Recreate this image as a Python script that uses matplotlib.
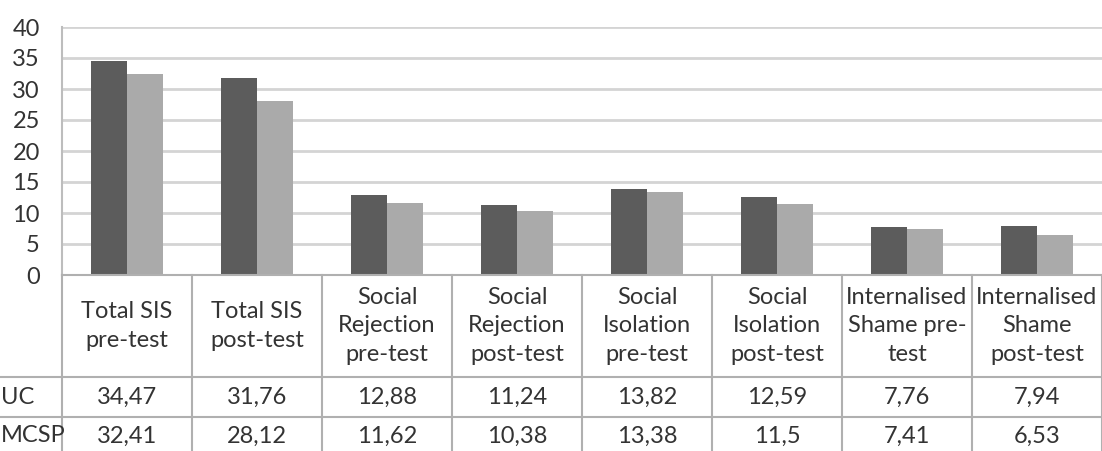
import numpy as np
import matplotlib.pyplot as plt

# data
categories = ["Total SIS\npre-test", "Total SIS\npost-test",
              "Social\nRejection\npre-test", "Social\nRejection\npost-test",
              "Social\nIsolation\npre-test", "Social\nIsolation\npost-test",
              "Internalised\nShame pre-\ntest", "Internalised\nShame\npost-test"]
uc = [34.47, 31.76, 12.88, 11.24, 13.82, 12.59, 7.76, 7.94]
mcsp = [32.41, 28.12, 11.62, 10.38, 13.38, 11.5, 7.41, 6.53]
series_names = ["UC", "MCSP"]

W, H = 1102, 451
plt.rcParams['font.family'] = ['Lato', 'DejaVu Sans']

fig = plt.figure(figsize=(W / 100, H / 100), dpi=100)

def fx(px):
    return px / W

def fy(py):
    # py measured from top of image
    return 1 - py / H

left, right, top, zero = 62, 1102, 27, 275
ax = fig.add_axes([fx(left), fy(zero), fx(right - left), fy(top) - fy(zero)])

x = np.arange(len(categories))
bw = 0.28
ax.bar(x - bw / 2, uc, bw, color='#5c5c5c', zorder=3)
ax.bar(x + bw / 2, mcsp, bw, color='#aaaaaa', zorder=3)

ax.set_xlim(-0.5, len(categories) - 0.5)
ax.set_ylim(0, 40)
ax.set_yticks(range(0, 41, 5))
ax.set_xticks([])
ax.grid(axis='y', color='#d4d4d4', linewidth=2, zorder=0)
for s in ['top', 'right', 'bottom']:
    ax.spines[s].set_visible(False)
ax.spines['left'].set_color('#bdbdbd')
ax.spines['left'].set_linewidth(1.5)
ax.tick_params(axis='y', length=0, labelsize=17, colors='#333333', pad=16)

# data table under the chart
col_w = (right - left) / len(categories)
line_c = '#b0b0b0'
fs = 17
txt_c = '#333333'
for i in range(len(categories) + 1):
    xp = left + i * col_w
    fig.add_artist(plt.Line2D([fx(xp), fx(xp)], [fy(275), fy(H)],
                              transform=fig.transFigure, color=line_c, lw=1.5))
for yp in [377, 417]:
    fig.add_artist(plt.Line2D([0, 1], [fy(yp), fy(yp)],
                              transform=fig.transFigure, color=line_c, lw=1.5))
fig.add_artist(plt.Line2D([fx(left), 1], [fy(275), fy(275)],
                          transform=fig.transFigure, color=line_c, lw=1.5))

for i, cat in enumerate(categories):
    cx = left + (i + 0.5) * col_w
    fig.text(fx(cx), fy(326), cat, ha='center', va='center', fontsize=fs,
             color=txt_c, linespacing=1.45)
    fig.text(fx(cx), fy(397), f"{uc[i]:g}".replace('.', ','), ha='center',
             va='center', fontsize=fs, color=txt_c)
    fig.text(fx(cx), fy(436), f"{mcsp[i]:g}".replace('.', ','), ha='center',
             va='center', fontsize=fs, color=txt_c)

fig.text(fx(1), fy(397), series_names[0], ha='left', va='center',
         fontsize=fs, color=txt_c)
fig.text(fx(1), fy(436), series_names[1], ha='left', va='center',
         fontsize=fs, color=txt_c)

fig.savefig('out.png', dpi=100, facecolor='white')
